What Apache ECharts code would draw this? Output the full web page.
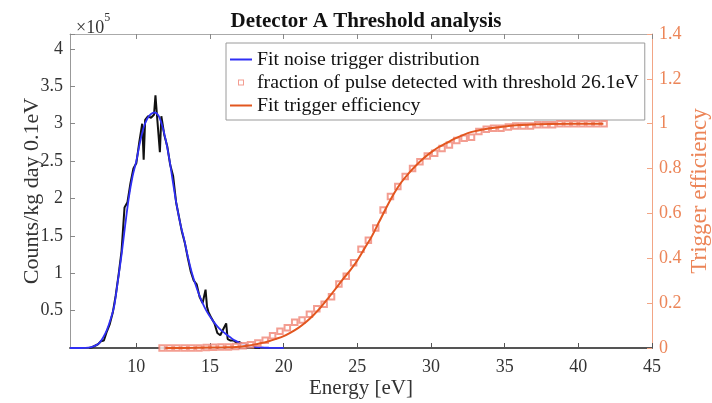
<!DOCTYPE html>
<html><head><meta charset="utf-8">
<script src="https://cdn.jsdelivr.net/npm/echarts@6/dist/echarts.min.js"></script>
<style>html,body{margin:0;padding:0;background:#fff}#c{width:712px;height:403px}</style>
</head><body><div id="c"></div>
<script>
// ---- data (counts in units of 1e5) ----
const histE = [6.8,7.0,7.2,7.4,7.6,7.8,8.0,8.2,8.4,8.6,8.8,9.0,9.2,9.4,9.6,9.8,10.0,10.2,10.4,10.5,10.6,10.8,11.0,11.2,11.3,11.4,11.6,11.7,11.9,12.1,12.3,12.5,12.7,12.9,13.1,13.3,13.5,13.7,13.9,14.1,14.3,14.5,14.7,14.8,14.9,15.1,15.3,15.5,15.7,15.9,16.1,16.2,16.4,16.6,16.8,17.0,17.2,17.4,17.6,17.8,18.0,18.4];
const histCounts = [0.0,0.01,0.03,0.05,0.09,0.1,0.22,0.32,0.47,0.7,0.98,1.3,1.88,1.95,2.2,2.4,2.47,2.75,3.0,2.52,3.05,3.1,3.08,3.12,3.38,3.12,2.62,3.1,2.85,2.7,2.45,2.3,1.95,1.75,1.55,1.4,1.2,1.02,0.9,0.85,0.68,0.6,0.78,0.55,0.48,0.4,0.33,0.2,0.17,0.25,0.33,0.12,0.1,0.1,0.07,0.08,0.05,0.04,0.02,0.01,0.005,0.0];

const fitE = [5.5,5.75,6.0,6.25,6.5,6.75,7.0,7.25,7.5,7.75,8.0,8.25,8.5,8.75,9.0,9.25,9.5,9.75,10.0,10.25,10.5,10.75,11.0,11.25,11.5,11.75,12.0,12.25,12.5,12.75,13.0,13.25,13.5,13.75,14.0,14.25,14.5,14.75,15.0,15.25,15.5,15.75,16.0,16.25,16.5,16.75,17.0,17.25,17.5,17.75,18.0,18.5,19.0,19.5,20.0];
const fitCounts = [0,0,0,0,0.001,0.004,0.015,0.035,0.07,0.14,0.24,0.38,0.56,0.9,1.25,1.65,2.02,2.3,2.5,2.75,2.95,3.07,3.13,3.15,3.11,2.98,2.78,2.52,2.2,1.9,1.65,1.45,1.22,1.02,0.86,0.72,0.6,0.5,0.42,0.35,0.29,0.24,0.2,0.16,0.125,0.095,0.07,0.05,0.035,0.024,0.016,0.007,0.003,0.001,0];

const fracE = [11.75,12.25,12.75,13.25,13.75,14.25,14.75,15.25,15.75,16.25,16.75,17.25,17.75,18.25,18.75,19.25,19.75,20.25,20.75,21.25,21.75,22.25,22.75,23.25,23.75,24.25,24.75,25.25,25.75,26.25,26.75,27.25,27.75,28.25,28.75,29.25,29.75,30.25,30.75,31.25,31.75,32.25,32.75,33.25,33.75,34.25,34.75,35.25,35.75,36.25,36.75,37.25,37.75,38.25,38.75,39.25,39.75,40.25,40.75,41.25,41.75];
const fracDetected = [0,0,0,0,0,0,0.002,0.003,0.004,0.005,0.007,0.01,0.015,0.022,0.035,0.055,0.075,0.09,0.115,0.125,0.15,0.175,0.195,0.228,0.285,0.32,0.38,0.44,0.48,0.535,0.615,0.675,0.72,0.765,0.8,0.83,0.856,0.868,0.89,0.905,0.925,0.935,0.94,0.965,0.975,0.98,0.98,0.985,0.99,0.99,0.99,0.995,0.995,0.995,1,1,1,1,1,1,1];

const effE = [12,14,16,17,17.5,18,18.5,19,19.5,20,20.5,21,21.5,22,22.5,23,23.5,24,24.5,25,25.5,26,26.5,27,27.5,28,28.5,29,29.5,30,30.5,31,31.5,32,32.5,33,33.5,34,35,36,37,38,41.7];
const effFit = [0,0.001,0.003,0.006,0.01,0.015,0.022,0.03,0.041,0.053,0.07,0.09,0.115,0.145,0.18,0.22,0.262,0.305,0.345,0.39,0.445,0.5,0.565,0.63,0.69,0.74,0.78,0.815,0.846,0.872,0.895,0.912,0.93,0.945,0.958,0.967,0.974,0.98,0.988,0.994,0.997,0.999,1.0];

const xTicks = [10,15,20,25,30,35,40,45];
const legendNames = ['Fit noise trigger distribution','fraction of pulse detected with threshold 26.1eV','Fit trigger efficiency'];

const zip = (a,b) => a.map((v,i)=>[v,b[i]]);
const FONT = 'Liberation Serif';
const ORANGE = '#e2561f';
const ORANGE_L = '#ec8558';
const BLUE = '#2f2ff5';
const MARK = '#f08576';
const LINE_ICON = 'path://M0,0L22,0L22,2L0,2Z';
const SQ_ICON = 'path://M0,0L6,0L6,6L0,6Z M1,1L1,5L5,5L5,1Z';

const chart = echarts.init(document.getElementById('c'), null, {renderer:'canvas'});
chart.setOption({
  animation:false,
  textStyle:{fontFamily:FONT},
  title:[
    {text:'Detector A Threshold analysis', left:361, top:6, textAlign:'center',
     textStyle:{fontFamily:FONT,fontWeight:'bold',fontSize:21,color:'#111'}},
    {text:'{a|×10}{b|5}', left:71, top:7,
     textStyle:{rich:{a:{fontFamily:FONT,fontSize:18,fontWeight:'normal',color:'#333',padding:[7,0,0,0]},
                      b:{fontFamily:FONT,fontSize:12,fontWeight:'normal',color:'#333',verticalAlign:'top'}}}}
  ],
  legend:{
    orient:'vertical', left:226, top:43,
    padding:[5,6,3,4], itemGap:0, itemWidth:22, itemHeight:6,
    backgroundColor:'#fff', borderColor:'#9a9a9a', borderWidth:1,
    textStyle:{fontFamily:FONT,fontSize:19.8,color:'#111',lineHeight:23},
    data:[
      {name:legendNames[0],icon:LINE_ICON,itemStyle:{color:BLUE,borderWidth:0}},
      {name:legendNames[1],icon:SQ_ICON,itemStyle:{color:MARK,borderWidth:0}},
      {name:legendNames[2],icon:LINE_ICON,itemStyle:{color:ORANGE,borderWidth:0}}
    ]
  },
  grid:{left:70, right:60, top:34, bottom:55, outerBoundsMode:'none', containLabel:false},
  xAxis:[
    {type:'value', min:5.5, max:45, position:'bottom',
     name:'Energy [eV]', nameLocation:'middle', nameGap:30, nameMoveOverlap:false,
     nameTextStyle:{fontFamily:FONT,fontSize:21,color:'#333'},
     axisLine:{onZero:false,lineStyle:{color:'#555',width:2}},
     axisTick:{inside:true,length:5,customValues:xTicks,lineStyle:{color:'#555'}},
     axisLabel:{customValues:xTicks,fontFamily:FONT,fontSize:18,color:'#333',margin:10},
     splitLine:{show:false}},
    {type:'value', min:5.5, max:45, position:'top',
     axisLine:{onZero:false,lineStyle:{color:'#aaa',width:1}},
     axisTick:{inside:true,length:5,customValues:xTicks,lineStyle:{color:'#888'}},
     axisLabel:{show:false}, splitLine:{show:false}}
  ],
  yAxis:[
    {type:'value', min:0, max:4.2, interval:0.5, position:'left',
     name:'Counts/kg day 0.1eV', nameLocation:'middle', nameGap:27, nameRotate:90, nameMoveOverlap:false,
     nameTextStyle:{fontFamily:FONT,fontSize:22,color:'#333'},
     axisLine:{show:true,lineStyle:{color:'#999'}},
     axisTick:{inside:true,length:5,lineStyle:{color:'#888'}},
     axisLabel:{fontFamily:FONT,fontSize:18,color:'#333',margin:7,
       formatter:v=>{ if(v<=0||Math.abs(v*2-Math.round(v*2))>1e-6) return ''; return String(v);} },
     splitLine:{show:false}},
    {type:'value', min:0, max:1.4, interval:0.2, position:'right',
     name:'Trigger efficiency', nameLocation:'middle', nameGap:36, nameRotate:90, nameMoveOverlap:false,
     nameTextStyle:{fontFamily:FONT,fontSize:23,color:ORANGE_L},
     axisLine:{show:true,lineStyle:{color:'#f2a585'}},
     axisTick:{inside:true,length:5,lineStyle:{color:'#f2a585'}},
     axisLabel:{fontFamily:FONT,fontSize:18,color:ORANGE_L,margin:7,
       formatter:v=>String(Math.round(v*10)/10)},
     splitLine:{show:false}}
  ],
  series:[
    {name:'hist', type:'line', xAxisIndex:0, yAxisIndex:0, data:zip(histE,histCounts),
     symbol:'none', lineStyle:{color:'#111',width:2}, z:2},
    {name:legendNames[0], type:'line', xAxisIndex:0, yAxisIndex:0, data:zip(fitE,fitCounts),
     symbol:'none', smooth:0.3, color:BLUE, lineStyle:{color:BLUE,width:1.8}, z:3},
    {name:legendNames[1], type:'scatter', xAxisIndex:0, yAxisIndex:1, data:zip(fracE,fracDetected),
     symbol:'emptyRect', symbolSize:5.5, color:MARK,
     itemStyle:{color:MARK,borderColor:MARK,borderWidth:1}, z:4},
    {name:legendNames[2], type:'line', xAxisIndex:0, yAxisIndex:1, data:zip(effE,effFit),
     symbol:'none', smooth:0.3, color:ORANGE, lineStyle:{color:ORANGE,width:2}, z:5}
  ]
});
</script></body></html>
